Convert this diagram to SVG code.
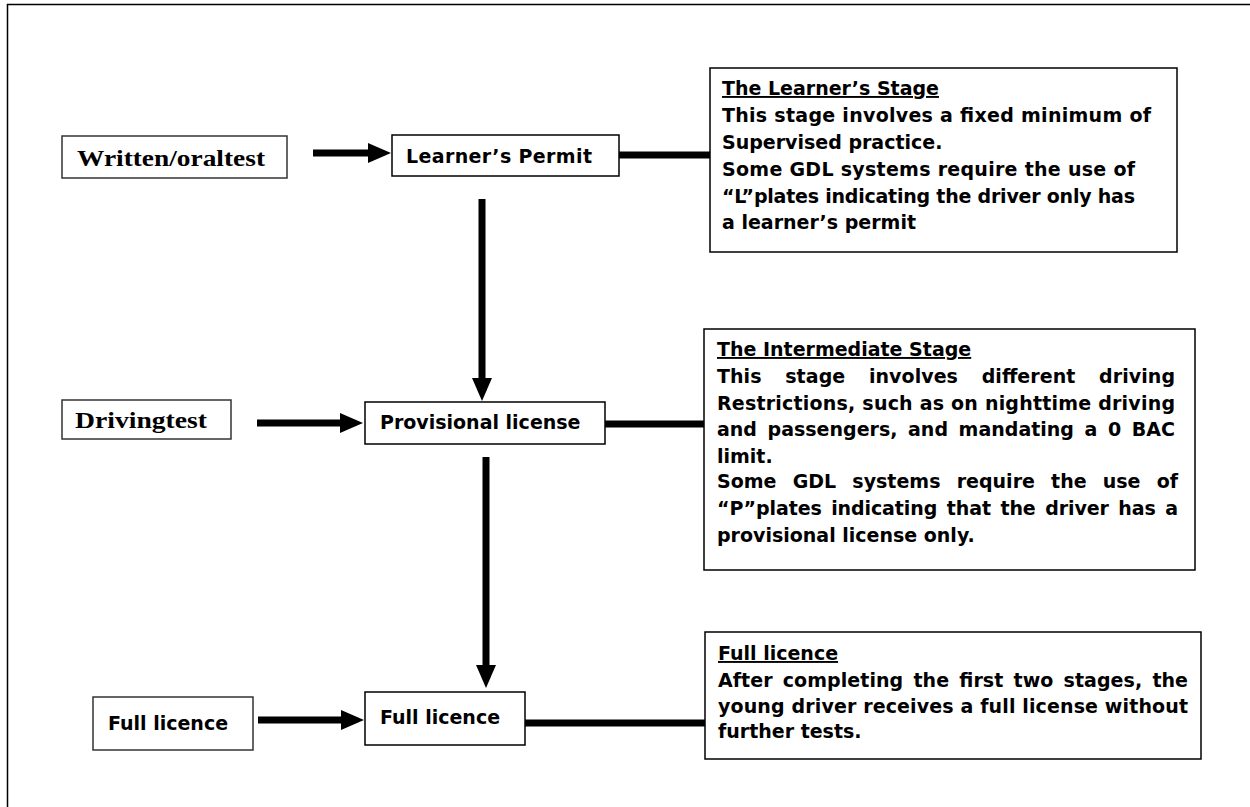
<svg xmlns="http://www.w3.org/2000/svg" width="1250" height="807" viewBox="0 0 1250 807">
<style>
  .box { fill: #fff; stroke: #000; stroke-width: 1.5; }
  .sbox { fill: #fff; stroke: #333; stroke-width: 1.5; }
  .serif { font-family: "Liberation Serif", "Times New Roman", serif; font-weight: bold; font-size: 23px; fill: #000; }
  .sans { font-family: "DejaVu Sans", Verdana, sans-serif; font-weight: bold; font-size: 19px; fill: #000; }
  .head { text-decoration: underline; }
  .conn { stroke: #000; stroke-width: 7; fill: none; }
</style>
<defs>
  <marker id="ah" markerUnits="userSpaceOnUse" markerWidth="24" markerHeight="22" refX="0" refY="10" orient="auto">
    <path d="M0,0 L23,10 L0,20 z" fill="#000"/>
  </marker>
</defs>
<rect width="1250" height="807" fill="#fff"/>
<path d="M7.5,807 L7.5,4.5 L1250,4.5" fill="none" stroke="#000" stroke-width="1.5"/>

<g id="connectors">
  <line class="conn" x1="313" y1="153" x2="368" y2="153" marker-end="url(#ah)"/>
  <line class="conn" x1="619" y1="155" x2="710" y2="155"/>
  <line class="conn" x1="482" y1="199" x2="482" y2="378" stroke-width="8" marker-end="url(#ah)"/>
  <line class="conn" x1="257" y1="423" x2="340" y2="423" marker-end="url(#ah)"/>
  <line class="conn" x1="605" y1="424" x2="705" y2="424"/>
  <line class="conn" x1="486" y1="457" x2="486" y2="665" stroke-width="8" marker-end="url(#ah)"/>
  <line class="conn" x1="258" y1="720" x2="341" y2="720" marker-end="url(#ah)"/>
  <line class="conn" x1="525" y1="723" x2="705" y2="723" stroke-width="8"/>
</g>

<g id="written">
  <rect class="sbox" x="62" y="136" width="225" height="42"/>
  <text class="serif" x="77" y="166" textLength="188" lengthAdjust="spacingAndGlyphs">Written/oraltest</text>
</g>
<g id="learner-permit">
  <rect class="box" x="392" y="135" width="227" height="41"/>
  <text class="sans" x="406" y="163" textLength="186">Learner’s Permit</text>
</g>
<g id="learner-stage">
  <rect class="box" x="710" y="68" width="467" height="184"/>
  <text class="sans head" x="722" y="95">The Learner’s Stage</text>
  <text class="sans" x="722" y="122" textLength="429">This stage involves a fixed minimum of</text>
  <text class="sans" x="722" y="149">Supervised practice.</text>
  <text class="sans" x="722" y="176" textLength="413">Some GDL systems require the use of</text>
  <text class="sans" x="722" y="203" textLength="413">“L”plates indicating the driver only has</text>
  <text class="sans" x="722" y="229">a learner’s permit</text>
</g>

<g id="drivingtest">
  <rect class="sbox" x="62" y="400" width="169" height="39"/>
  <text class="serif" x="75" y="428" textLength="132" lengthAdjust="spacingAndGlyphs">Drivingtest</text>
</g>
<g id="provisional">
  <rect class="box" x="365" y="402" width="240" height="42"/>
  <text class="sans" x="380" y="429">Provisional license</text>
</g>
<g id="intermediate-stage">
  <rect class="box" x="704" y="329" width="491" height="241"/>
  <text class="sans head" x="717" y="356">The Intermediate Stage</text>
  <text class="sans" x="717" y="383" word-spacing="17" textLength="458">This stage involves different driving</text>
  <text class="sans" x="717" y="410" textLength="458">Restrictions, such as on nighttime driving</text>
  <text class="sans" x="717" y="436" word-spacing="4" textLength="458">and passengers, and mandating a 0 BAC</text>
  <text class="sans" x="717" y="463">limit.</text>
  <text class="sans" x="717" y="488" word-spacing="9.5" textLength="461">Some GDL systems require the use of</text>
  <text class="sans" x="717" y="515" word-spacing="3" textLength="461">“P”plates indicating that the driver has a</text>
  <text class="sans" x="717" y="542">provisional license only.</text>
</g>

<g id="full-licence-left">
  <rect class="sbox" x="93" y="697" width="160" height="53"/>
  <text class="sans" x="108" y="730">Full licence</text>
</g>
<g id="full-licence">
  <rect class="box" x="365" y="692" width="160" height="53"/>
  <text class="sans" x="380" y="724">Full licence</text>
</g>
<g id="full-licence-desc">
  <rect class="box" x="705" y="632" width="496" height="127"/>
  <text class="sans head" x="718" y="660">Full licence</text>
  <text class="sans" x="718" y="687" word-spacing="3.5" textLength="470">After completing the first two stages, the</text>
  <text class="sans" x="718" y="713" textLength="470">young driver receives a full license without</text>
  <text class="sans" x="718" y="738">further tests.</text>
</g>
</svg>
